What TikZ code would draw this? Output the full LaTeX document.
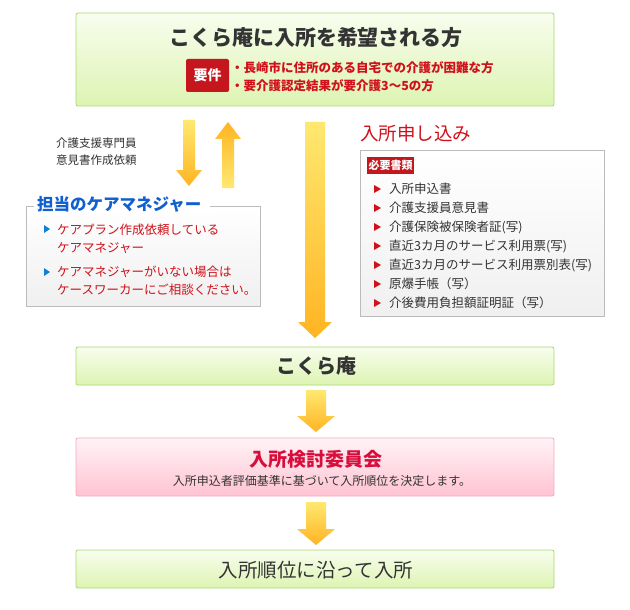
\documentclass[tikz,border=0pt]{standalone}
\usepackage{fontspec}
\setmainfont{Noto Sans CJK JP}
\definecolor{gtop}{HTML}{F8FDEE}
\definecolor{gbot}{HTML}{DDF4B2}
\definecolor{gline}{HTML}{A8D870}
\definecolor{ptop}{HTML}{FFF3F6}
\definecolor{pbot}{HTML}{FFC3D3}
\definecolor{pline}{HTML}{F7A8C0}
\definecolor{ared}{HTML}{D0101A}
\definecolor{badge}{HTML}{C4161C}
\definecolor{ayel}{HTML}{FFE870}
\definecolor{aora}{HTML}{FFB422}
\definecolor{mblue}{HTML}{1060D0}
\definecolor{tgray}{HTML}{333333}
\definecolor{bgray}{HTML}{BBBBBB}
\tikzset{
 gbox/.style={draw=gline,line width=0.8pt,rounded corners=2pt,top color=gtop,bottom color=gbot},
 pbox/.style={draw=pline,line width=0.8pt,rounded corners=2pt,top color=ptop,bottom color=pbot},
 ibox/.style={draw=bgray,line width=0.6pt,top color=white,bottom color=black!6},
 arr/.style={top color=ayel,bottom color=aora,draw=none},
 itm/.style={anchor=west,inner sep=0pt,font=\fontsize{12.5}{14}\selectfont,text=tgray},
 ritm/.style={anchor=west,inner sep=0pt,font=\fontsize{12.5}{14}\selectfont,text=ared},
 tri/.style={fill=ared,draw=none},
}
\newcommand{\downarr}[5]{% cx, top, bottom, shaft half, head half
 \path[arr] ({#1-#4},#2) -- ({#1+#4},#2) -- ({#1+#4},{#3-16}) -- ({#1+#5},{#3-16}) -- (#1,#3) -- ({#1-#5},{#3-16}) -- ({#1-#4},{#3-16}) -- cycle;}
\begin{document}
\begin{tikzpicture}[x=1pt,y=-1pt]
\useasboundingbox (0,0) rectangle (630,610);
\fill[white] (0,0) rectangle (630,610);
% top box
\path[gbox] (76,13) rectangle (554,106);
\node[font=\bfseries\fontsize{21}{24}\selectfont,text=tgray] (t1) at (316,38) {こくら庵に入所を希望される方};
\path[fill=badge,rounded corners=2pt] (186,59) rectangle (229,92);
\node[text=white,font=\bfseries\fontsize{14}{15}\selectfont] (yk) at (207.5,75.5) {要件};
\node[ritm,font=\bfseries\fontsize{12.5}{14}\selectfont] (r1) at (231,68) {・長崎市に住所のある自宅での介護が困難な方};
\node[ritm,font=\bfseries\fontsize{12.5}{14}\selectfont] (r2) at (231,86) {・要介護認定結果が要介護3〜5の方};
% small arrows
\downarr{189}{120}{186}{6}{13}
\path[arr,top color=aora,bottom color=ayel] (222,188) -- (234,188) -- (234,139) -- (241,139) -- (228,122) -- (215,139) -- (222,139) -- cycle;
\node[anchor=west,align=left,font=\fontsize{11.5}{17}\selectfont,text=tgray,inner sep=0pt] (req) at (56,152) {介護支援専門員\\意見書作成依頼};
% manager box
\path[ibox] (26,206) rectangle (260,306);
\fill[white] (34,196) rectangle (210,213);
\node[anchor=west,inner sep=0pt,font=\bfseries\fontsize{16.5}{18}\selectfont,text=mblue] (mt) at (37,204) {担当のケアマネジャー};
\path[fill=mblue!80!cyan] (44,225) -- (50,229) -- (44,233) -- cycle;
\path[fill=mblue!80!cyan] (44,268) -- (50,272) -- (44,276) -- cycle;
\node[ritm] (m1) at (57,230) {ケアプラン作成依頼している};
\node[ritm] (m2) at (57,248) {ケアマネジャー};
\node[ritm] (m3) at (57,272) {ケアマネジャーがいない場合は};
\node[ritm] (m4) at (57,290) {ケースワーカーにご相談ください。};
% big arrow
\downarr{315}{122}{338}{10}{17}
% apply
\node[anchor=west,inner sep=0pt,font=\fontsize{18.5}{20}\selectfont,text=ared] (ap) at (360,133) {入所申し込み};
\path[ibox] (360,150) rectangle (604,316);
\fill[badge] (367,157) rectangle (414,174);
\node[text=white,font=\bfseries\fontsize{11}{12}\selectfont,inner sep=0pt] (hs) at (390.5,165.5) {必要書類};
\foreach \y/\t [count=\i] in {189/入所申込書,208/介護支援員意見書,227/介護保険被保険者証(写),246/直近3カ月のサービス利用票(写),265/直近3カ月のサービス利用票別表(写),284/原爆手帳（写）,303/介後費用負担額証明証（写）}{
 \path[tri] (374,{\y-4}) -- (381,\y) -- (374,{\y+4}) -- cycle;
 \node[itm] (d\i) at (389,\y) {\t};
}
% kokura
\path[gbox] (76,347) rectangle (554,385);
\node[font=\bfseries\fontsize{20}{22}\selectfont,text=tgray] (k) at (316,366) {こくら庵};
\downarr{316}{390}{432}{10}{19}
\path[pbox] (76,438) rectangle (554,496);
\node[font=\bfseries\fontsize{19}{21}\selectfont,text=ared!85!magenta] (c) at (316,459) {入所検討委員会};
\node[font=\fontsize{12}{13}\selectfont,text=tgray] (cs) at (322,481) {入所申込者評価基準に基づいて入所順位を決定します。};
\downarr{316}{502}{545}{10}{19}
\path[gbox] (76,550) rectangle (554,588);
\node[font=\fontsize{19.5}{21}\selectfont,text=tgray] (f) at (316,570) {入所順位に沿って入所};
\end{tikzpicture}
\end{document}
